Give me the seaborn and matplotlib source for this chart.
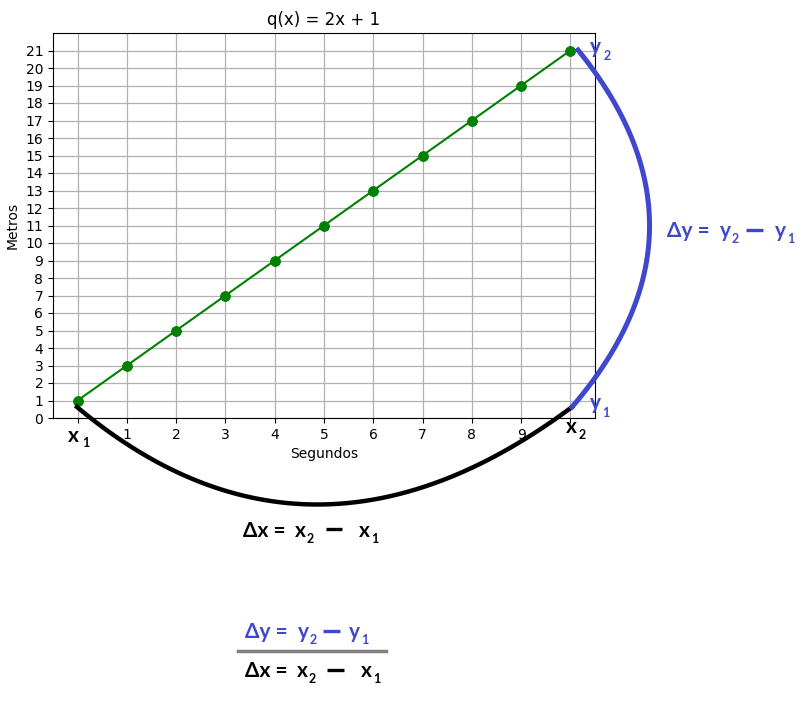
import matplotlib
matplotlib.use("Agg")
import matplotlib.pyplot as plt
import seaborn as sns
import numpy as np

# data: q(x) = 2x + 1
segundos = [0, 1, 2, 3, 4, 5, 6, 7, 8, 9, 10]
metros = [1, 3, 5, 7, 9, 11, 13, 15, 17, 19, 21]
xtick_labels = ["", "1", "2", "3", "4", "5", "6", "7", "8", "9", ""]

blue = "#3f48cc"
ann_font = ["Lato", "DejaVu Sans"]

fig = plt.figure(figsize=(8.06, 7.01), dpi=100)
ax = fig.add_axes([53 / 806, 1 - 418 / 701, (595 - 53) / 806, (418 - 33) / 701])

sns.lineplot(x=segundos, y=metros, ax=ax, color="green", marker="o",
             markersize=7, markeredgecolor="green", linewidth=1.5)
ax.set_xlim(-0.5, 10.5)
ax.set_ylim(0, 22)
ax.set_xticks(segundos)
ax.set_xticklabels(xtick_labels)
ax.set_yticks(range(0, 22))
ax.grid(True, color="#b0b0b0", linewidth=0.9)
ax.set_title("q(x) = 2x + 1", fontsize=12)
ax.set_xlabel("Segundos")
ax.set_ylabel("Metros")


def px(x, y):
    return x / 806, 1 - y / 701


def txt(x, y, s, color, size=15):
    fig.text(*px(x, y), s, color=color, fontsize=size, fontweight="bold",
             family=ann_font, va="baseline", ha="left")


def sym(x, y, letter, digit, color, dx=12, dy=6):
    txt(x, y, letter, color)
    txt(x + dx, y + dy, digit, color, size=9)


def dash(x, y, color, w=17):
    a, b = px(x, y), px(x + w, y)
    fig.add_artist(plt.Line2D([a[0], b[0]], [a[1], b[1]], color=color,
                              linewidth=2.4, solid_capstyle="butt",
                              transform=fig.transFigure))


# curved brackets (annotation only)
t = np.linspace(0, 1, 100)
p0, p1, p2 = np.array(px(77, 407)), np.array(px(310, 602)), np.array(px(572, 407))
b = ((1 - t) ** 2)[:, None] * p0 + (2 * t * (1 - t))[:, None] * p1 + (t ** 2)[:, None] * p2
fig.add_artist(plt.Line2D(b[:, 0], b[:, 1], color="black", linewidth=3.2,
                          transform=fig.transFigure))
q0, q1, q2 = np.array(px(578, 50)), np.array(px(724, 230)), np.array(px(572, 407))
c = ((1 - t) ** 2)[:, None] * q0 + (2 * t * (1 - t))[:, None] * q1 + (t ** 2)[:, None] * q2
fig.add_artist(plt.Line2D(c[:, 0], c[:, 1], color=blue, linewidth=3.6,
                          transform=fig.transFigure))

# point labels
sym(68, 442, "x", "1", "black", dx=14, dy=5)
sym(566, 433, "x", "2", "black", dx=13, dy=6)
sym(590, 53, "y", "2", blue, dx=14, dy=7)
sym(590, 409, "y", "1", blue, dx=12, dy=8)

# delta y (right)
txt(667, 237, "Δy =", blue)
sym(720, 237, "y", "2", blue)
dash(746, 230, blue)
sym(775, 237, "y", "1", blue)

# delta x (below)
txt(243, 537, "Δx =", "black")
sym(295, 537, "x", "2", "black")
dash(326, 529, "black", w=16)
sym(359, 537, "x", "1", "black")

# fraction
txt(245, 638, "Δy =", blue)
sym(298, 638, "y", "2", blue)
dash(323, 631, blue)
sym(349, 638, "y", "1", blue)
l0, l1 = px(238, 651), px(386, 651)
fig.add_artist(plt.Line2D([l0[0], l1[0]], [l0[1], l1[1]], color="#808080",
                          linewidth=2.5, transform=fig.transFigure))
txt(245, 677, "Δx =", "black")
sym(297, 677, "x", "2", "black")
dash(327, 670, "black", w=17)
sym(361, 677, "x", "1", "black")

fig.savefig("out.png", dpi=100)
